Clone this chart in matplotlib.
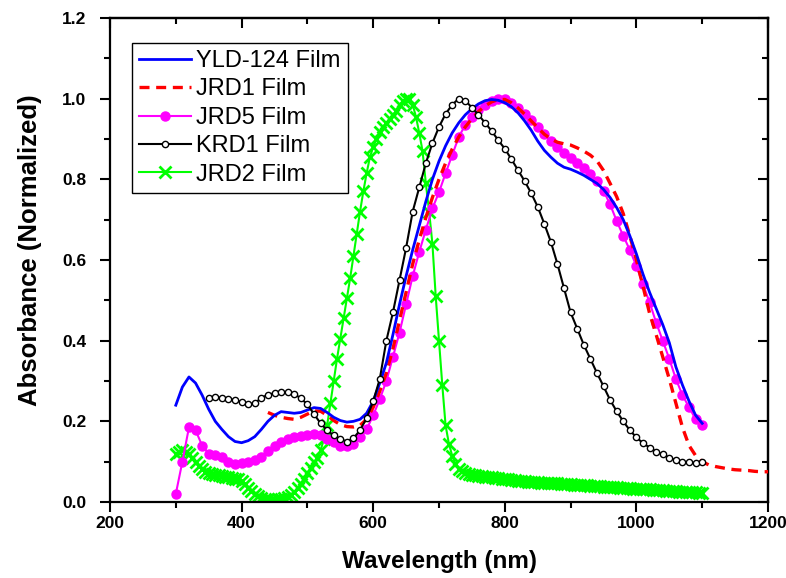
import matplotlib
matplotlib.use("Agg")
import matplotlib.pyplot as plt
from matplotlib.ticker import MultipleLocator

plt.rcParams['font.family'] = ['Liberation Sans', 'DejaVu Sans']

# ---------------- data ----------------
yld_wl = list(range(300, 1101, 10))
yld_ab = [0.24, 0.285, 0.31, 0.295, 0.265, 0.23, 0.20, 0.18, 0.162, 0.15,
          0.147, 0.152, 0.162, 0.18, 0.20, 0.215, 0.224, 0.222, 0.22, 0.222,
          0.228, 0.234, 0.232, 0.222, 0.21, 0.202, 0.198, 0.20, 0.205, 0.22,
          0.25, 0.295, 0.345, 0.415, 0.49, 0.56, 0.625, 0.685, 0.745, 0.80,
          0.845, 0.883, 0.915, 0.94, 0.96, 0.975, 0.987, 0.995, 0.998, 0.996,
          0.99, 0.98, 0.965, 0.945, 0.922, 0.895, 0.872, 0.855, 0.84, 0.83,
          0.825, 0.818, 0.81, 0.80, 0.79, 0.775, 0.755, 0.73, 0.70, 0.66,
          0.615, 0.565, 0.52, 0.48, 0.44, 0.395, 0.335, 0.29, 0.25, 0.215,
          0.195]

jrd1_wl = list(range(440, 1201, 10))
jrd1_ab = [0.222, 0.215, 0.21, 0.207, 0.205, 0.21, 0.218, 0.226, 0.225, 0.215,
           0.202, 0.192, 0.187, 0.186, 0.19, 0.205, 0.235, 0.275, 0.32, 0.38,
           0.45, 0.52, 0.59, 0.65, 0.705, 0.755, 0.80, 0.84, 0.875, 0.905,
           0.93, 0.95, 0.968, 0.982, 0.992, 0.998, 0.998, 0.99, 0.977, 0.962,
           0.945, 0.928, 0.912, 0.90, 0.892, 0.888, 0.885, 0.878, 0.87, 0.86,
           0.846, 0.822, 0.79, 0.757, 0.715, 0.66, 0.60, 0.535, 0.468, 0.415,
           0.36, 0.305, 0.245, 0.185, 0.14, 0.115, 0.10, 0.092, 0.088, 0.085,
           0.082, 0.08, 0.079, 0.078, 0.076, 0.075, 0.075]

jrd5_wl = list(range(300, 1101, 10))
jrd5_ab = [0.02, 0.10, 0.185, 0.178, 0.14, 0.12, 0.116, 0.112, 0.10, 0.095,
           0.097, 0.10, 0.105, 0.112, 0.127, 0.14, 0.15, 0.156, 0.16, 0.163,
           0.166, 0.169, 0.165, 0.157, 0.148, 0.14, 0.138, 0.145, 0.16, 0.18,
           0.215, 0.255, 0.30, 0.36, 0.42, 0.49, 0.56, 0.62, 0.675, 0.728,
           0.768, 0.815, 0.86, 0.905, 0.935, 0.955, 0.972, 0.985, 0.995, 1.0,
           0.998, 0.99, 0.978, 0.963, 0.948, 0.93, 0.912, 0.895, 0.88, 0.866,
           0.852, 0.84, 0.828, 0.813, 0.795, 0.772, 0.738, 0.697, 0.66, 0.625,
           0.585, 0.54, 0.495, 0.445, 0.40, 0.355, 0.305, 0.265, 0.235, 0.205,
           0.19]

krd1_wl = list(range(350, 1101, 10))
krd1_ab = [0.258, 0.26, 0.258, 0.256, 0.252, 0.248, 0.242, 0.245, 0.258, 0.266,
           0.27, 0.272, 0.272, 0.268, 0.257, 0.242, 0.218, 0.195, 0.178, 0.165,
           0.156, 0.15, 0.158, 0.178, 0.208, 0.25, 0.305, 0.40, 0.47, 0.55,
           0.63, 0.72, 0.78, 0.84, 0.89, 0.93, 0.962, 0.985, 1.0, 0.995,
           0.978, 0.96, 0.94, 0.92, 0.897, 0.876, 0.85, 0.823, 0.796, 0.766,
           0.732, 0.69, 0.645, 0.59, 0.53, 0.47, 0.43, 0.39, 0.355, 0.32,
           0.287, 0.253, 0.225, 0.20, 0.178, 0.16, 0.146, 0.135, 0.125, 0.118,
           0.11, 0.104, 0.10, 0.098, 0.097, 0.10]

jrd2_wl = list(range(300, 1101, 5))
jrd2_ab = [0.12, 0.125, 0.128, 0.125, 0.118, 0.108, 0.098, 0.09, 0.082, 0.075,
           0.072, 0.07, 0.068, 0.066, 0.064, 0.063, 0.062, 0.06, 0.058, 0.056,
           0.052, 0.045, 0.035, 0.027, 0.02, 0.014, 0.01, 0.008, 0.007, 0.006,
           0.006, 0.007, 0.008, 0.01, 0.013, 0.018, 0.025, 0.034, 0.045, 0.058,
           0.072, 0.085, 0.098, 0.11, 0.128, 0.155, 0.19, 0.245, 0.30, 0.355,
           0.405, 0.455, 0.505, 0.555, 0.61, 0.665, 0.72, 0.77, 0.815, 0.855,
           0.88, 0.9, 0.918, 0.93, 0.94, 0.95, 0.96, 0.97, 0.985, 0.995,
           1.0, 0.998, 0.985, 0.955, 0.915, 0.87, 0.79, 0.72, 0.64, 0.51,
           0.40, 0.29, 0.19, 0.145, 0.115, 0.095, 0.082, 0.076, 0.072, 0.069,
           0.067, 0.066, 0.065, 0.064, 0.063, 0.062, 0.061, 0.060, 0.059, 0.058,
           0.057, 0.056, 0.055, 0.054, 0.053, 0.052, 0.051, 0.050, 0.050, 0.049,
           0.049, 0.048, 0.048, 0.047, 0.047, 0.046, 0.046, 0.045, 0.045, 0.044,
           0.044, 0.043, 0.043, 0.042, 0.041, 0.041, 0.040, 0.040, 0.039, 0.039,
           0.038, 0.037, 0.037, 0.036, 0.036, 0.035, 0.035, 0.034, 0.034, 0.033,
           0.033, 0.032, 0.032, 0.031, 0.031, 0.030, 0.030, 0.029, 0.029, 0.028,
           0.028, 0.027, 0.027, 0.026, 0.026, 0.025, 0.025, 0.024, 0.024, 0.023,
           0.023]

x_ticks = [200, 400, 600, 800, 1000, 1200]
y_ticks = [0.0, 0.2, 0.4, 0.6, 0.8, 1.0, 1.2]

# ---------------- figure ----------------
fig = plt.figure(figsize=(7.86, 5.78), dpi=100)
ax = fig.add_axes([110 / 786, 1 - 502 / 578, 658 / 786, 484 / 578])

ax.plot(yld_wl, yld_ab, color='#0000FF', lw=2.0, label='YLD-124 Film', zorder=5)
ax.plot(jrd1_wl, jrd1_ab, color='#FF0000', lw=2.4, ls=(0, (3.0, 2.0)),
        label='JRD1 Film', zorder=4)
ax.plot(jrd5_wl, jrd5_ab, color='#FF00FF', lw=1.5, marker='o', ms=6.5,
        mfc='#FF00FF', mec='#FF00FF', label='JRD5 Film', zorder=3)
ax.plot(krd1_wl, krd1_ab, color='black', lw=1.5, marker='o', ms=4.5,
        mfc='white', mec='black', mew=1.0, label='KRD1 Film', zorder=6)
ax.plot(jrd2_wl, jrd2_ab, color='#00FF00', lw=1.5, marker='x', ms=8,
        mew=2.0, label='JRD2 Film', zorder=2)

ax.set_xlim(200, 1200)
ax.set_ylim(0, 1.2)
ax.set_xticks(x_ticks)
ax.set_yticks(y_ticks)
ax.set_xticklabels([str(v) for v in x_ticks])
ax.set_yticklabels([f"{v:.1f}" for v in y_ticks])
ax.xaxis.set_minor_locator(MultipleLocator(100))
ax.yaxis.set_minor_locator(MultipleLocator(0.1))

for sp in ax.spines.values():
    sp.set_linewidth(1.6)

ax.tick_params(which='both', direction='out', width=1.5, top=False, right=False)
ax.tick_params(which='major', length=7, labelsize=12.5)
ax.tick_params(which='minor', length=4)
ax.tick_params(axis='x', which='major', pad=3)
ax.tick_params(axis='y', which='major', pad=10)
for lab in ax.get_xticklabels() + ax.get_yticklabels():
    lab.set_fontweight('bold')

secx = ax.secondary_xaxis('top')
secx.set_xticks(x_ticks)
secx.xaxis.set_minor_locator(MultipleLocator(100))
secx.tick_params(which='both', direction='in', width=1.5, labeltop=False)
secx.tick_params(which='major', length=7)
secx.tick_params(which='minor', length=4)
secx.spines['top'].set_linewidth(1.6)

secy = ax.secondary_yaxis('right')
secy.set_yticks(y_ticks)
secy.yaxis.set_minor_locator(MultipleLocator(0.1))
secy.tick_params(which='both', direction='in', width=1.5, labelright=False)
secy.tick_params(which='major', length=7)
secy.tick_params(which='minor', length=4)
secy.spines['right'].set_linewidth(1.6)

ax.set_xlabel('Wavelength (nm)', fontsize=17.5, fontweight='bold', labelpad=14)
ax.set_ylabel('Absorbance (Normalized)', fontsize=18.5, fontweight='bold')
ax.yaxis.set_label_coords(-0.104, 0.52)

leg = ax.legend(loc='upper left', bbox_to_anchor=(22 / 658, 1 - 25 / 484),
                borderaxespad=0, fontsize=17, frameon=True, fancybox=False,
                edgecolor='black', framealpha=1, numpoints=1,
                handlelength=2.2, handletextpad=0.22, labelspacing=0.27,
                borderpad=0.3)
leg.get_frame().set_linewidth(1.0)

fig.savefig('out.png', dpi=100)
